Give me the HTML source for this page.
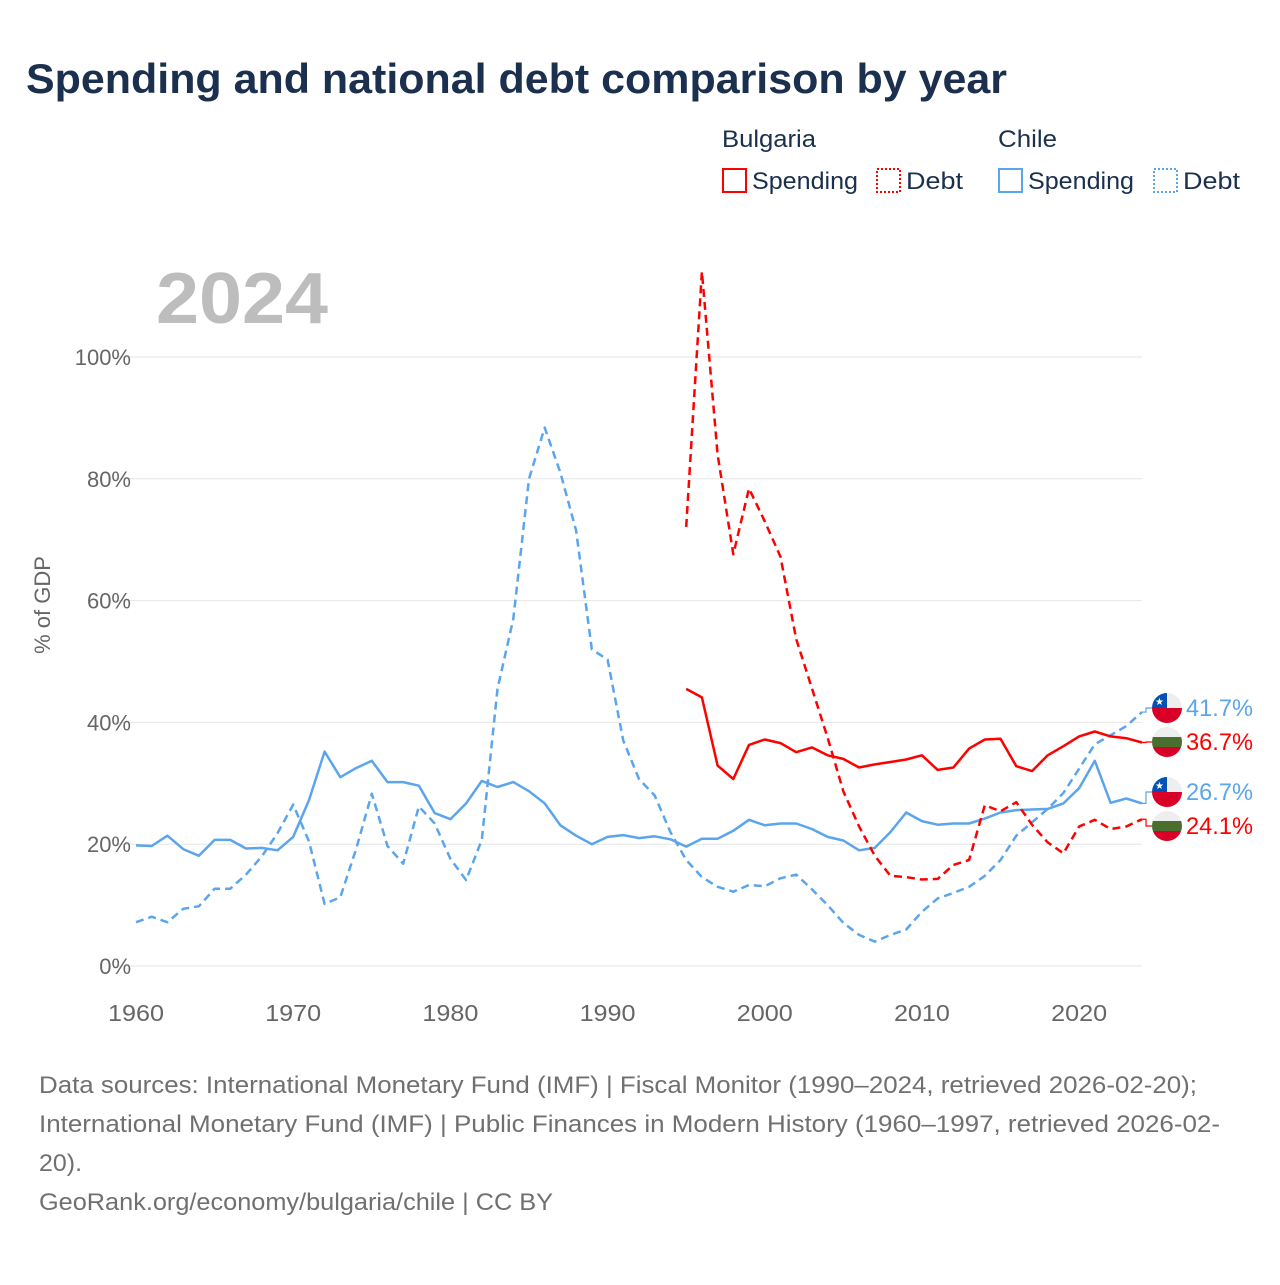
<!DOCTYPE html>
<html><head><meta charset="utf-8">
<style>
html,body{margin:0;padding:0;background:#fff;}
body{width:1280px;height:1280px;position:relative;overflow:hidden;font-family:"Liberation Sans",sans-serif;}
svg text{font-family:"Liberation Sans",sans-serif;}
</style></head>
<body>
<svg id="chart" width="1280" height="1280" viewBox="0 0 1280 1280" xmlns="http://www.w3.org/2000/svg">
  <text x="26" y="93" font-size="42" font-weight="bold" fill="#1b2f4e" textLength="981" lengthAdjust="spacingAndGlyphs">Spending and national debt comparison by year</text>
  <g font-size="24" fill="#1b2f4e">
    <text x="722" y="147" textLength="94" lengthAdjust="spacingAndGlyphs">Bulgaria</text>
    <text x="998" y="147" textLength="59" lengthAdjust="spacingAndGlyphs">Chile</text>
    <g><rect x="723" y="169" width="23" height="23" fill="none" stroke="#ff0000" stroke-width="2"/><text x="752" y="189" textLength="106" lengthAdjust="spacingAndGlyphs">Spending</text></g>
    <g><rect x="877" y="169" width="23" height="23" fill="none" stroke="#ff0000" stroke-width="2" stroke-dasharray="2,2"/><text x="906" y="189" textLength="57" lengthAdjust="spacingAndGlyphs">Debt</text></g>
    <g><rect x="999" y="169" width="23" height="23" fill="none" stroke="#5aa5ec" stroke-width="2"/><text x="1028" y="189" textLength="106" lengthAdjust="spacingAndGlyphs">Spending</text></g>
    <g><rect x="1154" y="169" width="23" height="23" fill="none" stroke="#5aa5ec" stroke-width="2" stroke-dasharray="2,2"/><text x="1183" y="189" textLength="57" lengthAdjust="spacingAndGlyphs">Debt</text></g>
  </g>
  <text x="156" y="323" font-size="72" font-weight="bold" fill="#bdbdbd" textLength="172" lengthAdjust="spacingAndGlyphs">2024</text>
  <text transform="translate(50,605) rotate(-90)" text-anchor="middle" font-size="22" fill="#666">% of GDP</text>
  <g id="grid"></g>
  <g id="series"></g>
  <g id="labels"></g>
  <g font-size="24" fill="#707070">
    <text x="39" y="1093" textLength="1158" lengthAdjust="spacingAndGlyphs">Data sources: International Monetary Fund (IMF) | Fiscal Monitor (1990–2024, retrieved 2026-02-20);</text>
    <text x="39" y="1132" textLength="1181" lengthAdjust="spacingAndGlyphs">International Monetary Fund (IMF) | Public Finances in Modern History (1960–1997, retrieved 2026-02-</text>
    <text x="39" y="1171" textLength="43" lengthAdjust="spacingAndGlyphs">20).</text>
    <text x="39" y="1210" textLength="514" lengthAdjust="spacingAndGlyphs">GeoRank.org/economy/bulgaria/chile | CC BY</text>
  </g>
</svg>
<script>
const yTicks = [0, 20, 40, 60, 80, 100];
const xTicks = [1960, 1970, 1980, 1990, 2000, 2010, 2020];
const chileYears = [1960,1961,1962,1963,1964,1965,1966,1967,1968,1969,1970,1971,1972,1973,1974,1975,1976,1977,1978,1979,1980,1981,1982,1983,1984,1985,1986,1987,1988,1989,1990,1991,1992,1993,1994,1995,1996,1997,1998,1999,2000,2001,2002,2003,2004,2005,2006,2007,2008,2009,2010,2011,2012,2013,2014,2015,2016,2017,2018,2019,2020,2021,2022,2023,2024];
const chileSpending = [19.8,19.7,21.4,19.2,18.1,20.7,20.7,19.3,19.4,19.0,21.2,27.2,35.2,31.0,32.5,33.7,30.2,30.2,29.6,25.1,24.1,26.7,30.4,29.4,30.2,28.7,26.7,23.1,21.4,20.0,21.2,21.5,21.0,21.3,20.8,19.6,20.9,20.9,22.2,24.0,23.1,23.4,23.4,22.5,21.2,20.6,19.0,19.4,22.0,25.2,23.8,23.2,23.4,23.4,24.2,25.2,25.6,25.7,25.8,26.7,29.2,33.7,26.8,27.5,26.7];
const chileDebt = [7.2,8.1,7.2,9.4,9.8,12.7,12.7,15.0,18.0,21.8,26.5,20.5,10.2,11.3,19.2,28.3,19.7,16.8,26.2,23.4,17.6,14.1,20.7,45.5,57.0,80.0,88.4,81.0,71.5,52.0,50.3,37.0,30.7,28.0,22.0,17.4,14.6,13.0,12.2,13.3,13.1,14.4,15.0,12.6,10.0,7.1,5.1,4.0,5.1,6.0,8.9,11.1,12.0,13.0,14.8,17.4,21.4,23.6,25.8,28.4,32.4,36.4,37.9,39.4,41.7];
const bgYears = [1995,1996,1997,1998,1999,2000,2001,2002,2003,2004,2005,2006,2007,2008,2009,2010,2011,2012,2013,2014,2015,2016,2017,2018,2019,2020,2021,2022,2023,2024];
const bgSpending = [45.5,44.1,32.9,30.7,36.3,37.2,36.6,35.1,35.9,34.6,34.0,32.6,33.1,33.5,33.9,34.6,32.2,32.6,35.7,37.2,37.3,32.8,32.0,34.6,36.1,37.7,38.5,37.7,37.4,36.7];
const bgDebt = [72.1,114.0,84.0,67.6,78.4,73.0,67.2,53.7,45.6,37.5,28.7,22.9,18.1,14.8,14.6,14.2,14.3,16.6,17.4,26.4,25.4,26.9,23.2,20.3,18.5,22.9,24.0,22.5,22.9,24.1];
const endLabels = ["41.7%","36.7%","26.7%","24.1%"];

const NS = "http://www.w3.org/2000/svg";
const X0 = 136, X1 = 1142, Y0 = 966, Y100 = 357;
function sx(yr){ return X0 + (yr - 1960) * (X1 - X0) / 64; }
function sy(v){ return Y0 - v * (Y0 - Y100) / 100; }
function mk(tag, attrs, parent){ const e = document.createElementNS(NS, tag); for (const k in attrs) e.setAttribute(k, attrs[k]); parent.appendChild(e); return e; }

const grid = document.getElementById('grid');
yTicks.forEach(t => {
  const l = mk('line', {x1: 113, x2: X1, y1: sy(t), y2: sy(t), stroke: '#e6e6e6', 'stroke-width': 1}, grid);
  
  
  const tx = mk('text', {x: 131, y: sy(t) + 8, 'text-anchor': 'end', 'font-size': 22, fill: '#666'}, grid);
  tx.textContent = t + '%';
  
  
});
xTicks.forEach(t => {
  const tx = mk('text', {x: sx(t), y: 1021, 'text-anchor': 'middle', 'font-size': 23, fill: '#666', textLength: 56, lengthAdjust: 'spacingAndGlyphs'}, grid);
  tx.textContent = t;
  
  
});

const series = document.getElementById('series');
function line(years, vals, color, dash, name){
  const d = years.map((y, i) => (i ? 'L' : 'M') + sx(y).toFixed(1) + ',' + sy(vals[i]).toFixed(1)).join(' ');
  const p = mk('path', {d: d, fill: 'none', stroke: color, 'stroke-width': 2.5, 'stroke-linejoin': 'round'}, series);
  if (dash) p.setAttribute('stroke-dasharray', '8,5');
  
  
}
const BLUE = '#5aa5ec', RED = '#ff0000';
line(chileYears, chileDebt, BLUE, true, 'chile-debt-line');
line(chileYears, chileSpending, BLUE, false, 'chile-spending-line');
line(bgYears, bgDebt, RED, true, 'bulgaria-debt-line');
line(bgYears, bgSpending, RED, false, 'bulgaria-spending-line');

const labels = document.getElementById('labels');
const ends = [
  {v: chileDebt[chileDebt.length-1], ly: 708, c: BLUE, f: 'cl', t: endLabels[0], n: 'label-chile-debt'},
  {v: bgSpending[bgSpending.length-1], ly: 742, c: RED, f: 'bg', t: endLabels[1], n: 'label-bulgaria-spending'},
  {v: chileSpending[chileSpending.length-1], ly: 792, c: BLUE, f: 'cl', t: endLabels[2], n: 'label-chile-spending'},
  {v: bgDebt[bgDebt.length-1], ly: 826, c: RED, f: 'bg', t: endLabels[3], n: 'label-bulgaria-debt'}
];
ends.forEach((e, i) => {
  const g = mk('g', {}, labels);
  
  
  const y0 = sy(e.v);
  mk('path', {d: `M${X1},${y0} L1146,${y0} L1146,${e.ly} L1152,${e.ly}`, fill: 'none', stroke: e.c, 'stroke-width': 1.2}, g);
  const cx = 1167, cy = e.ly, r = 15;
  const cid = 'clip' + i;
  const cp = mk('clipPath', {id: cid}, g);
  mk('circle', {cx: cx, cy: cy, r: r}, cp);
  const fg = mk('g', {'clip-path': `url(#${cid})`}, g);
  if (e.f === 'cl') {
    mk('rect', {x: cx - r, y: cy - r, width: 2*r, height: r, fill: '#eeeeee'}, fg);
    mk('rect', {x: cx - r, y: cy, width: 2*r, height: r, fill: '#d80027'}, fg);
    mk('rect', {x: cx - r, y: cy - r, width: r, height: r, fill: '#0052b4'}, fg);
    const st = mk('text', {x: cx - r/2, y: cy - 3, 'text-anchor': 'middle', 'font-size': 10, fill: '#fff'}, fg);
    st.textContent = '★';
  } else {
    mk('rect', {x: cx - r, y: cy - r, width: 2*r, height: 10, fill: '#eeeeee'}, fg);
    mk('rect', {x: cx - r, y: cy - r + 10, width: 2*r, height: 10, fill: '#496e2d'}, fg);
    mk('rect', {x: cx - r, y: cy - r + 20, width: 2*r, height: 10, fill: '#d80027'}, fg);
  }
  const t = mk('text', {x: 1186, y: e.ly + 8, 'font-size': 24, fill: e.c, textLength: 67, lengthAdjust: 'spacingAndGlyphs'}, g);
  t.textContent = e.t;
});
</script>
</body></html>
